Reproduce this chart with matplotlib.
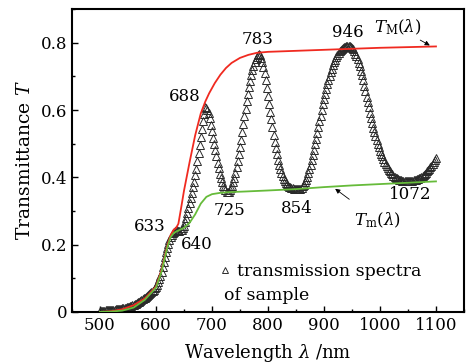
import matplotlib
matplotlib.use("Agg")
import matplotlib.pyplot as plt
import numpy as np
from matplotlib.ticker import MultipleLocator, FuncFormatter

# measured spectrum, 2 nm step from 500 to 1100 nm
wavelength = np.arange(500, 1101, 2)
transmittance = [
    .004, .004, .004, .004, .004, .005, .005, .005, .005, .006,
    .006, .006, .007, .007, .008, .008, .009, .009, .010, .010,
    .011, .011, .012, .013, .014, .015, .016, .017, .018, .020,
    .021, .023, .025, .027, .029, .031, .033, .035, .037, .040,
    .042, .045, .048, .051, .054, .057, .060, .063, .066, .070,
    .075, .081, .088, .097, .108, .120, .133, .147, .162, .177,
    .191, .203, .213, .222, .229, .235, .239, .242, .243, .243,
    .242, .242, .243, .245, .249, .256, .266, .279, .293, .308,
    .323, .338, .354, .370, .387, .406, .426, .448, .472, .496,
    .520, .543, .566, .588, .608, .606, .600, .590, .575, .557,
    .538, .518, .499, .480, .462, .444, .427, .411, .397, .385,
    .375, .367, .361, .357, .356, .357, .361, .367, .375, .386,
    .399, .414, .431, .449, .469, .490, .512, .535, .558, .581,
    .604, .627, .648, .668, .687, .704, .719, .732, .743, .752,
    .759, .764, .768, .764, .756, .744, .728, .709, .688, .666,
    .643, .619, .595, .572, .549, .527, .506, .487, .469, .452,
    .437, .424, .413, .403, .395, .388, .383, .379, .375, .372,
    .370, .368, .367, .366, .365, .364, .364, .364, .365, .366,
    .369, .373, .378, .385, .393, .402, .412, .424, .437, .451,
    .466, .482, .498, .515, .532, .549, .566, .583, .600, .617,
    .633, .648, .663, .677, .690, .702, .713, .723, .733, .742,
    .750, .757, .763, .769, .774, .778, .781, .784, .786, .788,
    .789, .790, .790, .789, .787, .784, .780, .775, .768, .760,
    .751, .741, .730, .717, .703, .688, .672, .656, .640, .624,
    .608, .592, .577, .562, .548, .535, .522, .510, .499, .489,
    .479, .470, .462, .454, .447, .440, .434, .428, .423, .418,
    .413, .409, .405, .402, .399, .397, .395, .393, .392, .391,
    .390, .389, .389, .389, .389, .389, .389, .389, .390, .390,
    .391, .392, .393, .394, .395, .397, .399, .401, .403, .406,
    .410, .414, .418, .422, .426, .430, .435, .440, .445, .451,
    .457,
]
assert len(transmittance) == len(wavelength)

# upper envelope T_M
tmax_wl = [500, 520, 540, 560, 580, 600, 610, 620, 626, 632, 636, 640, 645, 650,
           660, 670, 680, 688, 695, 705, 715, 725, 735, 750, 765, 780, 800, 850,
           900, 950, 1000, 1050, 1100]
tmax = [.000, .002, .008, .020, .040, .075, .125, .195, .228, .245, .250, .262,
        .310, .360, .445, .525, .590, .625, .650, .680, .705, .725, .740, .755,
        .764, .770, .773, .776, .779, .782, .785, .787, .789]

# lower envelope T_m
tmin_wl = [500, 520, 540, 560, 580, 600, 610, 620, 626, 632, 640, 650, 660, 670,
           680, 690, 700, 715, 730, 760, 800, 850, 900, 950, 1000, 1050, 1100]
tmin = [.000, .001, .004, .013, .036, .072, .120, .190, .222, .235, .242, .250,
        .265, .290, .322, .342, .350, .354, .356, .358, .361, .365, .371, .376,
        .380, .384, .388]

# extremum labels: text, x, y
ext_labels = ["633", "640", "688", "725", "783", "854", "946", "1072"]
ext_x = [589, 673, 652, 732, 782, 852, 943, 1054]
ext_y = [0.253, 0.199, 0.64, 0.30, 0.81, 0.306, 0.83, 0.348]

plt.rcParams["font.family"] = "DejaVu Serif"
plt.rcParams["mathtext.fontset"] = "dejavuserif"

fig = plt.figure(figsize=(4.72, 3.64), dpi=100)
ax = fig.add_axes([0.1525, 0.143, 0.8305, 0.832])

ax.plot(wavelength, transmittance, linestyle="none", marker="^", markersize=5.5,
        markerfacecolor="none", markeredgecolor="#2a2a2a", markeredgewidth=0.7,
        label="transmission spectra", zorder=2)
ax.plot(tmax_wl, tmax, color="#f02a20", lw=1.3, zorder=3)
ax.plot(tmin_wl, tmin, color="#66bb3a", lw=1.3, zorder=4)

for s, x, y in zip(ext_labels, ext_x, ext_y):
    ax.text(x, y, s, fontsize=12, ha="center", va="center")

ax.annotate(r"$T_\mathrm{M}(\lambda)$", xy=(1089, 0.792), xytext=(1032, 0.845),
            fontsize=12, ha="center", va="center",
            arrowprops=dict(arrowstyle="-|>", color="black", lw=0.6,
                            mutation_scale=7, shrinkA=8, shrinkB=0))
ax.annotate(r"$T_\mathrm{m}(\lambda)$", xy=(920, 0.366), xytext=(995, 0.273),
            fontsize=12, ha="center", va="center",
            arrowprops=dict(arrowstyle="-|>", color="black", lw=0.6,
                            mutation_scale=7, shrinkA=10, shrinkB=0))

leg = ax.legend(loc="center left", bbox_to_anchor=(0.355, 0.132), frameon=False,
                fontsize=12.5, handlelength=0.6, handletextpad=0.4, markerscale=0.7,
                borderpad=0.0)
ax.text(0.388, 0.055, "of sample", transform=ax.transAxes, fontsize=12.5,
        ha="left", va="center")

ax.set_xlim(450, 1150)
ax.set_ylim(0, 0.9)
ax.xaxis.set_major_locator(MultipleLocator(100))
ax.xaxis.set_minor_locator(MultipleLocator(50))
ax.yaxis.set_major_locator(MultipleLocator(0.2))
ax.yaxis.set_minor_locator(MultipleLocator(0.1))
ax.yaxis.set_major_formatter(FuncFormatter(lambda v, p: "0" if v == 0 else f"{v:.1f}"))
ax.set_xticks([500, 600, 700, 800, 900, 1000, 1100])
ax.tick_params(which="both", direction="in", top=False, right=False, labelsize=12, width=1)
ax.tick_params(which="major", length=4)
ax.tick_params(which="minor", length=2.5)
for sp in ax.spines.values():
    sp.set_linewidth(1.5)

ax.set_xlabel(r"Wavelength $\lambda$ /nm", fontsize=13, labelpad=6)
ax.set_ylabel(r"Transmittance $T$", fontsize=13.5, labelpad=5)

fig.savefig("out.png", dpi=100)
